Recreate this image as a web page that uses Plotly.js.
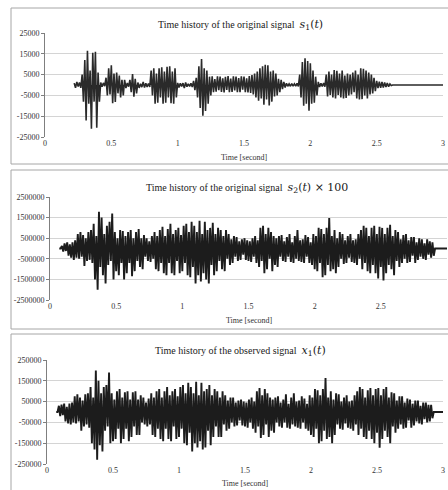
<!DOCTYPE html>
<html>
<head>
<meta charset="utf-8">
<script src="https://cdn.plot.ly/plotly-3.0.1.min.js"></script>
<style>
html,body{margin:0;padding:0;background:#fff;}
#chart{width:448px;height:490px;}
</style>
</head>
<body>
<div id="chart"></div>
<script>
// ---------------- DATA (alternating local peaks, sampled every 0.01 s) ----------------
const sampleStep = 0.01;

// s1(t): starts at 0.22 s
const s1Start = 0.22;
const s1Values = [
  900, -1300, 1500, -700, 1200, -1400, 5000, -8000,
  12000, -17000, 16500, -9000, 7000, -21000, 15500, -8000, 16000, -20500,
  6000, -8000, 1200, -900, 1000, -600, 3500, -5000, 8000, -4500,
  9500, -8800, 5500, -8200, 6000, -4000, 4500, -6000, 2500, -5000,
  2500, -1500, 1000, -800, 2500, -3500, 5300, -5600, 3000, -4000,
  1200, -1400, 600, -1000, 1500, -1200, 800, -1000, 700, -900,
  7000, -5000, 8000, -9000, 5500, -8500, 8000, -6000, 8500, -9000,
  6500, -8500, 8800, -6000, 9000, -8700, 6500, -9000, 8000, -6000,
  1000, -1200, 800, -700, 900, -1500, 1200, -800, 600, -700,
  800, -1000, 2000, -2500, 3500, -6000, 9000, -11000, 12500, -14800,
  8000, -12500, 7000, -9000, 4000, -5000, 4200, -3500, 2800, -3200,
  4200, -2500, 4000, -3300, 3200, -3600, 3900, -2400, 4300, -3500,
  3100, -3300, 4200, -2600, 4000, -3400, 3300, -3500, 4200, -2300,
  4000, -3500, 3200, -3600, 4300, -3800, 4800, -4500, 5500, -6000,
  6500, -7500, 8000, -6500, 9000, -9500, 9700, -7000, 9500, -9800,
  6500, -8000, 7000, -5500, 5500, -5000, 3000, -3500, 2500, -2000,
  1500, -1200, 800, -600, 500, -600, 700, -500, 600, -500,
  800, -700, 5000, -6000, 11000, -10000, 12900, -9000, 11500, -12400,
  10500, -9000, 7000, -8500, 4000, -5000, 1500, -1000, 800, -700,
  900, -800, 5000, -5500, 6500, -4800, 5000, -6000, 7200, -6500,
  6800, -4800, 5500, -6000, 7000, -6500, 4500, -6200, 5500, -5000,
  5000, -4500, 6000, -3500, 7000, -6500, 5000, -7000, 8000, -6800,
  7800, -5000, 7000, -6500, 6000, -4500, 5000, -4000, 3500, -3000,
  2000, -1500, 1600, -1400, 1500, -1200, 1200, -1000, 1000, -800,
  500, -300, 0, 0, 0, 0, 0, 0, 0, 0,
  0, 0, 0, 0, 0, 0, 0, 0, 0, 0,
  0, 0, 0, 0, 0, 0, 0, 0, 0, 0,
  0, 0, 0, 0, 0, 0, 0, 0, 0, 0, 0
];

// s2(t) x 100, in thousands: starts at 0.07 s
const s2Start = 0.07;
const s2Unit = 1000;
const s2Values = [
  0, 0, 120,
  -150, 250, -120, 300, -350, 200, -450, 300, -550, 400,
  -450, 700, -500, 800, -400, 650, -850, 500, -600, 800,
  -550, 900, -700, 1200, -1500, 600, -2000, 1780, -900, 1500,
  -1300, 700, -1700, 1100, -800, 1300, -600, 1700, -1500, 800,
  -1100, 500, -1300, 900, -700, 850, -1500, 600, -1200, 800,
  -700, 900, -1350, 500, -1100, 800, -600, 950, -900, 500,
  -1000, 650, -400, 500, -600, 350, -650, 600, -500, 800,
  -1000, 600, -1100, 900, -700, 1050, -1200, 600, -1300, 950,
  -700, 1200, -1200, 700, -1300, 900, -600, 1000, -1200, 650,
  -1100, 1100, -700, 1200, -1300, 800, -1400, 1300, -900, 1100,
  -1700, 800, -1300, 1350, -1600, 700, -1200, 1300, -1500, 900,
  -1700, 1000, -800, 1250, -1300, 700, -1100, 1000, -600, 900,
  -1000, 600, -1100, 900, -500, 700, -800, 450, -700, 600,
  -400, 550, -600, 350, -550, 450, -300, 500, -550, 400,
  -600, 350, -650, 500, -400, 600, -700, 400, -900, 1000,
  -600, 1100, -1200, 700, -1000, 1000, -500, 800, -1100, 600,
  -800, 500, -900, 600, -400, 650, -600, 350, -650, 550,
  -400, 700, -650, 300, -700, 600, -500, 900, -600, 400,
  -650, 450, -700, 650, -400, 550, -700, 300, -800, 700,
  -1000, 600, -1100, 1000, -700, 950, -1400, 700, -1300, 1000,
  -800, 1480, -1100, 600, -1000, 900, -1200, 500, -900, 800,
  -500, 700, -750, 400, -700, 600, -450, 700, -650, 400,
  -700, 450, -800, 700, -500, 900, -1000, 1100, -700, 1000,
  -1100, 600, -1200, 1000, -800, 1100, -1200, 700, -1450, 1050,
  -900, 1000, -1550, 700, -1200, 1000, -800, 1150, -1000, 600,
  -1300, 900, -600, 800, -900, 450, -700, 650, -500, 700,
  -700, 400, -650, 550, -350, 550, -700, 300, -550, 500,
  -400, 450, -500, 250, -550, 450, -300, 350, -450, 300,
  -350, 0, 0, 0, 0, 0, 0, 0, 0, 0, 0
];

// x1(t), in thousands: starts at 0.07 s
const x1Start = 0.07;
const x1Unit = 1000;
const x1Values = [
  0, 0, 30,
  -20, 35, -15, 40, -45, 25, -55, 40, -60, 45,
  -50, 75, -55, 85, -45, 70, -90, 55, -70, 85,
  -60, 90, -75, 120, -150, 70, -180, 200, -230, 150,
  -160, 90, -190, 120, -90, 130, -70, 190, -150, 90,
  -140, 60, -130, 100, -80, 110, -150, 70, -130, 95,
  -80, 100, -140, 60, -120, 95, -70, 100, -110, 60,
  -110, 80, -50, 70, -60, 45, -70, 65, -60, 90,
  -110, 70, -120, 100, -80, 110, -130, 70, -140, 100,
  -80, 120, -130, 80, -140, 100, -70, 110, -130, 75,
  -120, 120, -80, 130, -150, 90, -160, 140, -100, 120,
  -190, 90, -150, 145, -170, 80, -140, 140, -180, 100,
  -170, 110, -90, 130, -160, 80, -120, 110, -70, 100,
  -120, 70, -120, 100, -60, 80, -90, 55, -80, 70,
  -50, 70, -70, 45, -65, 55, -40, 60, -65, 50,
  -70, 45, -75, 60, -50, 70, -80, 50, -100, 100,
  -70, 115, -125, 80, -110, 110, -60, 90, -120, 70,
  -90, 60, -100, 70, -50, 75, -70, 45, -75, 60,
  -50, 85, -75, 40, -80, 70, -60, 90, -70, 50,
  -75, 55, -80, 75, -50, 65, -80, 40, -90, 80,
  -110, 70, -120, 110, -80, 105, -150, 80, -140, 110,
  -90, 163, -130, 70, -120, 100, -150, 60, -110, 90,
  -60, 85, -80, 50, -85, 70, -55, 80, -75, 50,
  -80, 55, -90, 80, -60, 100, -110, 120, -80, 110,
  -120, 70, -130, 105, -90, 115, -130, 80, -150, 110,
  -100, 115, -172, 80, -130, 110, -90, 120, -120, 70,
  -150, 95, -70, 90, -100, 55, -80, 75, -60, 75,
  -80, 45, -75, 65, -40, 60, -75, 40, -65, 55,
  -45, 55, -55, 30, -60, 45, -35, 45, -50, 35,
  -45, 35, -30, 0, 0, 0, 0, 0, 0, 0, 0
];

// axis ticks
const xTickVals = [0, 0.5, 1, 1.5, 2, 2.5, 3];
const xTickText = ['0', '0.5', '1', '1.5', '2', '2.5', '3'];
const y1TickVals = [-25000, -15000, -5000, 5000, 15000, 25000];
const y1TickText = ['-25000', '-15000', '-5000', '5000', '15000', '25000'];
const y2TickVals = [-2500000, -1500000, -500000, 500000, 1500000, 2500000];
const y2TickText = ['-2500000', '-1500000', '-500000', '500000', '1500000', '2500000'];
const y3TickVals = [-250000, -150000, -50000, 50000, 150000, 250000];
const y3TickText = ['-250000', '-150000', '-50000', '50000', '150000', '250000'];

const M = '<span style="font-family:DejaVu Serif;font-size:11px">';
const titles = [
  'Time history of the original signal  ' + M + '<i>s</i><sub>1</sub>(<i>t</i>)</span>',
  'Time history of the original signal  ' + M + '<i>s</i><sub>2</sub>(<i>t</i>) × 100</span>',
  'Time history of the observed signal  ' + M + '<i>x</i><sub>1</sub>(<i>t</i>)</span>'
];
const xTitle = 'Time [second]';

// ---------------- BUILD ----------------
const W = 448, H = 490;
const px = v => v / W;
const py = v => 1 - v / H;
const FONT = 'Liberation Serif, Times New Roman, serif';

function times(start, n) {
  const out = [];
  for (let i = 0; i < n; i++) out.push(+(start + i * sampleStep).toFixed(3));
  return out;
}

function signalTrace(x, y, ax, lineColor, fillColor, w) {
  return {x: x, y: y, xaxis: 'x' + ax, yaxis: 'y' + ax, type: 'scatter', mode: 'lines',
    fill: 'tozeroy', fillcolor: fillColor,
    line: {color: lineColor, width: w, simplify: false}, hoverinfo: 'skip'};
}

const traces = [
  signalTrace(times(s1Start, s1Values.length), s1Values, '', '#2a2a2a', '#111111', 1.6),
  signalTrace(times(s2Start, s2Values.length), s2Values.map(v => v * s2Unit), '2', '#1c1c1c', '#0a0a0a', 1.9),
  signalTrace(times(x1Start, x1Values.length), x1Values.map(v => v * x1Unit), '3', '#1c1c1c', '#0a0a0a', 1.9)
];

const tickFont = {family: FONT, size: 8, color: '#333333'};
function xAxis(l, r, anchor) {
  return {domain: [px(l), px(r)], range: [0, 3], anchor: anchor,
    tickmode: 'array', tickvals: xTickVals, ticktext: xTickText,
    showgrid: false, zeroline: false, showline: false, ticks: '',
    tickfont: tickFont, fixedrange: true};
}
function yAxis(top, bottom, range, tv, tt, anchor) {
  return {domain: [py(bottom), py(top)], range: range, anchor: anchor,
    tickmode: 'array', tickvals: tv, ticktext: tt,
    showgrid: true, gridcolor: '#d4d4d4', gridwidth: 1,
    zeroline: false, showline: true, linecolor: '#7f7f7f', linewidth: 1,
    ticks: 'outside', ticklen: 3, tickcolor: '#7f7f7f',
    tickfont: tickFont, fixedrange: true};
}

const panels = [
  {l: 45, r: 443, top: 33, bottom: 137, box: [11, 8, 452, 164], titleX: 240, titleY: 25, xtY: 157},
  {l: 50, r: 447, top: 197, bottom: 300, box: [11, 170, 452, 329], titleX: 247, titleY: 188, xtY: 320},
  {l: 47, r: 443, top: 360, bottom: 464, box: [11, 334, 452, 492], titleX: 240, titleY: 351, xtY: 483}
];

const layout = {
  width: W, height: H,
  margin: {l: 0, r: 0, t: 0, b: 0},
  paper_bgcolor: '#ffffff', plot_bgcolor: '#ffffff',
  showlegend: false,
  xaxis: xAxis(panels[0].l, panels[0].r, 'y'),
  yaxis: yAxis(panels[0].top, panels[0].bottom, [-25000, 25000], y1TickVals, y1TickText, 'x'),
  xaxis2: xAxis(panels[1].l, panels[1].r, 'y2'),
  yaxis2: yAxis(panels[1].top, panels[1].bottom, [-2500000, 2500000], y2TickVals, y2TickText, 'x2'),
  xaxis3: xAxis(panels[2].l, panels[2].r, 'y3'),
  yaxis3: yAxis(panels[2].top, panels[2].bottom, [-250000, 250000], y3TickVals, y3TickText, 'x3'),
  shapes: panels.map(p => ({type: 'rect', xref: 'paper', yref: 'paper', layer: 'below',
    x0: px(p.box[0]), x1: px(p.box[2]), y0: py(p.box[3]), y1: py(p.box[1]),
    line: {color: '#a6a6a6', width: 1}, fillcolor: 'rgba(0,0,0,0)'})),
  annotations: []
};
panels.forEach((p, i) => {
  layout.annotations.push({xref: 'paper', yref: 'paper', x: px(p.titleX), y: py(p.titleY),
    xanchor: 'center', yanchor: 'middle', showarrow: false, text: titles[i],
    font: {family: FONT, size: 10, color: '#1a1a1a'}});
  layout.annotations.push({xref: 'paper', yref: 'paper', x: px((p.l + p.r) / 2), y: py(p.xtY),
    xanchor: 'center', yanchor: 'middle', showarrow: false, text: xTitle,
    font: {family: FONT, size: 8, color: '#333333'}});
});

Plotly.newPlot('chart', traces, layout, {staticPlot: true, displayModeBar: false});
</script>
</body>
</html>
